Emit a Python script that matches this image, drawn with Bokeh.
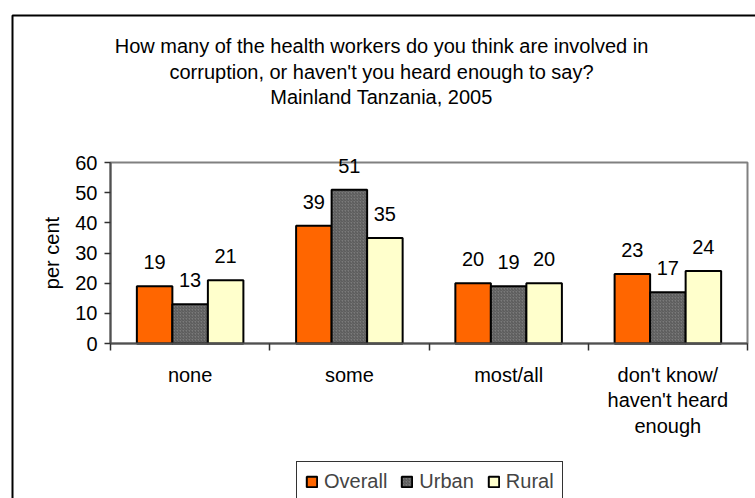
from bokeh.plotting import figure
from bokeh.models import (Range1d, FixedTicker, LinearAxis, Label, Legend, LegendItem,
                          BoxAnnotation, ColumnDataSource, LabelSet)
from bokeh.core.properties import value
from bokeh.embed import file_html
from bokeh.resources import INLINE

categories = ["none", "some", "most/all", "don't know/\nhaven't heard\nenough"]
series_names = ["Overall", "Urban", "Rural"]
overall = [19, 39, 20, 23]
urban = [13, 51, 19, 17]
rural = [21, 35, 20, 24]
y_ticks = [0, 10, 20, 30, 40, 50, 60]
title_lines = ["How many of the health workers do you think are involved in",
               "corruption, or haven't you heard enough to say?",
               "Mainland Tanzania, 2005"]

FONT = "Liberation Sans"
FS = "20px"
W, H = 755, 498
# plot-area edges in page pixels (the frame covers the whole canvas,
# so titles, legend and border are not clipped)
PL, PR, PT, PB = 110, 747, 162, 343
NCAT = len(categories)
YMAX = y_ticks[-1]

xs = (PR - PL) / NCAT
ys = (PB - PT) / YMAX
x0 = -PL / xs
y1 = YMAX + PT / ys
y0 = -(H - PB) / ys

p = figure(width=W, height=H, output_backend="svg", toolbar_location=None,
           x_range=Range1d(x0, x0 + W / xs), y_range=Range1d(y0, y1),
           min_border=0, x_axis_type=None, y_axis_type=None)
p.xgrid.visible = False
p.ygrid.visible = False
p.outline_line_color = None
p.background_fill_color = "white"
p.border_fill_color = "white"

# plot area border (grey)
p.add_layout(BoxAnnotation(left=0, right=NCAT, bottom=0, top=YMAX, fill_alpha=0,
                           line_color="#808080", line_alpha=1, line_width=2,
                           level="underlay"))

# axes
yax = LinearAxis(ticker=FixedTicker(ticks=y_ticks, minor_ticks=[]), fixed_location=0,
                 bounds=(0, YMAX))
yax.axis_line_color = "#505050"
yax.axis_line_width = 2
yax.major_tick_out = 6
yax.major_tick_in = 0
yax.major_tick_line_color = "#303030"
yax.major_tick_line_width = 1.5
yax.minor_tick_line_color = None
yax.major_label_text_font = FONT
yax.major_label_text_font_size = FS
yax.major_label_text_color = "black"
yax.major_label_standoff = 7
yax.axis_label = "per cent"
yax.axis_label_text_font = FONT
yax.axis_label_text_font_size = FS
yax.axis_label_text_font_style = "normal"
yax.axis_label_text_color = "black"
yax.axis_label_standoff = 9
p.add_layout(yax, "left")

centers = [i + 0.5 for i in range(NCAT)]
bounds = [float(i) for i in range(NCAT + 1)]
xax = LinearAxis(ticker=FixedTicker(ticks=centers, minor_ticks=bounds), fixed_location=0,
                 bounds=(0, NCAT))
xax.major_label_overrides = {c: lab for c, lab in zip(centers, categories)}
xax.axis_line_color = "#505050"
xax.axis_line_width = 2
xax.major_tick_line_color = None
xax.major_tick_out = 0
xax.major_tick_in = 0
xax.minor_tick_line_color = "#303030"
xax.minor_tick_line_width = 1.5
xax.minor_tick_out = 7
xax.minor_tick_in = 0
xax.major_label_text_font = FONT
xax.major_label_text_font_size = FS
xax.major_label_text_color = "black"
xax.major_label_text_line_height = 1.16
xax.major_label_standoff = 13
p.add_layout(xax, "below")

# bars
bw = 0.223
offsets = [-bw, 0.0, bw]
fills = ["#FF6600", "#7a7a7a", "#FFFFCC"]
series = [overall, urban, rural]
renderers = []
for name, vals, off, col in zip(series_names, series, offsets, fills):
    src = ColumnDataSource(dict(x=[c + off for c in centers], top=vals,
                                lab=[str(v) for v in vals]))
    kw = {}
    if name == "Urban":
        kw = dict(hatch_pattern="right_diagonal_line", hatch_color="#555555",
                  hatch_scale=3, hatch_weight=1)
    r = p.vbar(x="x", top="top", width=bw, bottom=0, source=src, fill_color=col,
               line_color="black", line_width=2, **kw)
    renderers.append(r)
    p.add_layout(LabelSet(x="x", y="top", text="lab", source=src, text_align="center",
                          text_baseline="alphabetic", y_offset=17, text_font=value(FONT),
                          text_font_size=value(FS), text_color="black"))

# title lines (screen units: x from left, y upward from bottom)
title_base = [45, 71, 96]
for line, ty in zip(title_lines, title_base):
    p.add_layout(Label(x=381, y=H - ty, x_units="screen", y_units="screen", text=line,
                       text_align="center", text_baseline="alphabetic", text_font=FONT,
                       text_font_size=FS, text_color="black"))

# legend
legend = Legend(items=[LegendItem(label=n, renderers=[r]) for n, r in zip(series_names, renderers)],
                orientation="horizontal", location=(296, -4),
                glyph_width=13, glyph_height=13, label_standoff=6, spacing=13,
                padding=8, margin=0, border_line_color="#333333", border_line_alpha=1,
                border_line_width=1.5,
                background_fill_color="white", background_fill_alpha=1,
                label_text_font=FONT, label_text_font_size=FS)
p.add_layout(legend, "center")

# outer chart border
p.add_layout(BoxAnnotation(left=12, right=3000, top=H - 15, bottom=-3000,
                           left_units="screen", right_units="screen",
                           top_units="screen", bottom_units="screen",
                           fill_alpha=0, line_color="black", line_alpha=1, line_width=2))

open("out.html", "w").write(file_html(p, INLINE))
